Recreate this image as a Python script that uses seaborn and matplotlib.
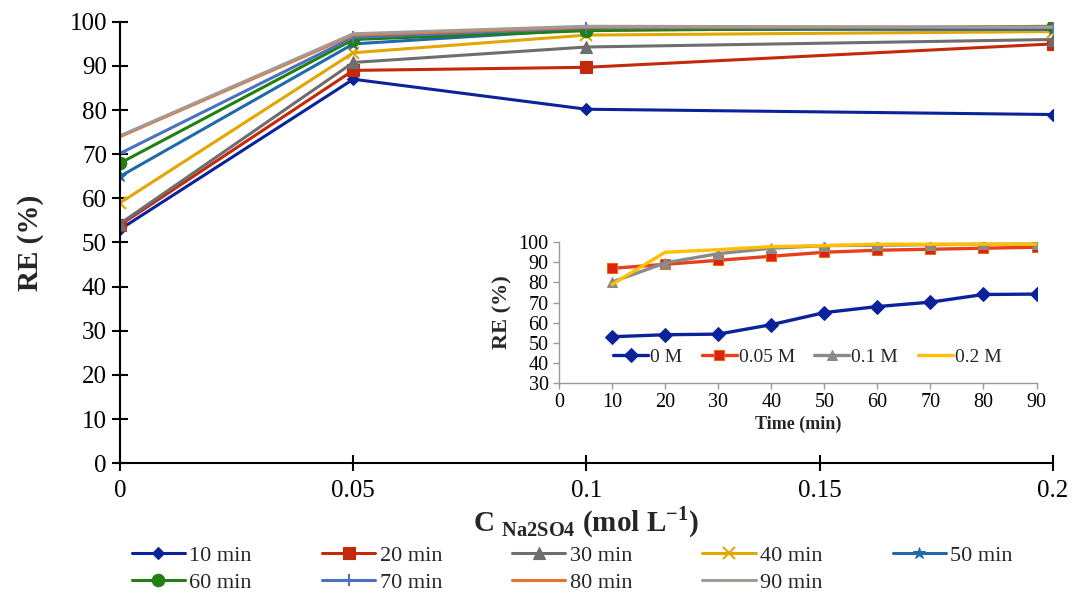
import numpy as np
import pandas as pd
import seaborn as sns
import matplotlib.pyplot as plt

# main chart: RE (%) vs Na2SO4 concentration, one series per contact time
conc = [0, 0.05, 0.1, 0.2]
time_labels = ["10 min", "20 min", "30 min", "40 min", "50 min",
               "60 min", "70 min", "80 min", "90 min"]
re_10 = [53.0, 87.0, 80.2, 79.0]
re_20 = [54.0, 89.0, 89.7, 95.0]
re_30 = [54.3, 90.8, 94.3, 96.0]
re_40 = [59.0, 93.0, 97.0, 97.8]
re_50 = [65.0, 95.0, 98.3, 98.3]
re_60 = [68.0, 96.0, 98.0, 99.0]
re_70 = [70.2, 96.5, 98.6, 98.8]
re_80 = [74.0, 97.0, 98.8, 98.8]
re_90 = [74.2, 97.3, 99.0, 98.8]
main_series = [re_10, re_20, re_30, re_40, re_50, re_60, re_70, re_80, re_90]

main_colors = ["#0b239a", "#c4290c", "#6e6e6e", "#e2a600", "#1f6aa8",
               "#21800f", "#4a72c0", "#e8702e", "#a39a94"]
main_markers = ["D", "s", "^", "x", "*", "o", "+", None, None]
main_msize = [6, 8, 8, 8, 9, 9, 9, 0, 0]

# inset: RE (%) vs time, one series per concentration
times = [10, 20, 30, 40, 50, 60, 70, 80, 90]
conc_labels = ["0 M", "0.05 M", "0.1 M", "0.2 M"]
re_0m = [53.0, 54.0, 54.3, 59.0, 65.0, 68.0, 70.2, 74.0, 74.2]
re_005m = [87.0, 89.0, 91.0, 93.0, 95.0, 96.0, 96.5, 97.0, 97.5]
re_01m = [80.2, 89.7, 94.3, 97.0, 98.3, 98.5, 98.8, 99.0, 99.0]
re_02m = [79.0, 95.0, 96.3, 97.8, 98.3, 99.0, 99.0, 99.0, 99.0]
inset_series = [re_0m, re_005m, re_01m, re_02m]
inset_colors = ["#0b239a", "#e8401c", "#8a8a8a", "#ffc000"]
inset_markers = ["D", "s", "^", None]

sns.set_theme(style="white")
plt.rcParams["font.family"] = ["Liberation Serif", "DejaVu Serif"]
plt.rcParams["mathtext.fontset"] = "custom"
plt.rcParams["mathtext.rm"] = "Liberation Serif"
plt.rcParams["mathtext.bf"] = "Liberation Serif:bold"

fig = plt.figure(figsize=(10.73, 6.07), dpi=100)
ax = fig.add_axes([0.112, 0.237, 0.869, 0.727])

for vals, lab, col, mk, ms in zip(main_series, time_labels, main_colors, main_markers, main_msize):
    df = pd.DataFrame({"conc": conc, "re": vals})
    sns.lineplot(data=df, x="conc", y="re", ax=ax, color=col, linewidth=2.2,
                 marker=mk, markersize=ms, markeredgecolor=col,
                 markeredgewidth=1.5 if mk in ("x", "+") else 0.8, label=lab, legend=False)

ax.set_xlim(0, 0.2)
ax.set_ylim(0, 100)
ax.set_xticks([0, 0.05, 0.1, 0.15, 0.2])
ax.set_xticklabels(["0", "0.05", "0.1", "0.15", "0.2"])
ax.set_yticks(np.arange(0, 101, 10))
ax.tick_params(axis="both", bottom=True, left=True, direction="inout", length=12,
               width=1.5, labelsize=18, colors="black")
ax.tick_params(axis="x", pad=6)
for s in ["top", "right"]:
    ax.spines[s].set_visible(False)
for s in ["left", "bottom"]:
    ax.spines[s].set_color("black")
    ax.spines[s].set_linewidth(1.5)
ax.set_ylabel("RE (%)", fontsize=21, fontweight="bold", labelpad=18)
ax.set_xlabel(r"C $_{\mathbf{Na2SO4}}$ (mol L$^{\mathbf{-1}}$)", fontsize=21,
              fontweight="bold", labelpad=2)

# legend filled row by row like the original
h, l = ax.get_legend_handles_labels()
order = [0, 5, 1, 6, 2, 7, 3, 8, 4]
fig.legend([h[i] for i in order], [l[i] for i in order], loc="lower left",
           bbox_to_anchor=(0.104, -0.01), ncol=5, fontsize=16, frameon=False,
           handlelength=2.4, columnspacing=3.15, handletextpad=0.2, labelspacing=0.3)

# inset
ins = fig.add_axes([0.521, 0.369, 0.445, 0.232])
for vals, lab, col, mk in zip(inset_series, conc_labels, inset_colors, inset_markers):
    df = pd.DataFrame({"time": times, "re": vals})
    sns.lineplot(data=df, x="time", y="re", ax=ins, color=col, linewidth=2.4,
                 marker=mk, markersize=7 if mk else 0,
                 markeredgecolor="#e86a00" if mk == "s" else col,
                 markerfacecolor="#e02010" if mk == "s" else col,
                 label=lab, legend=False)
ins.set_xlim(0, 90)
ins.set_ylim(30, 100)
ins.set_xticks(np.arange(0, 91, 10))
ins.set_yticks(np.arange(30, 101, 10))
ins.tick_params(axis="both", bottom=True, left=True, direction="out", length=4, width=1,
                labelsize=14.5, colors="#999999", labelcolor="black")
for s in ["top", "right"]:
    ins.spines[s].set_visible(False)
for s in ["left", "bottom"]:
    ins.spines[s].set_color("#999999")
    ins.spines[s].set_linewidth(1)
ins.set_facecolor("white")
ins.set_ylabel("RE (%)", fontsize=16, fontweight="bold", labelpad=4)
ins.set_xlabel("Time (min)", fontsize=13, fontweight="bold", labelpad=2)
ins.legend(loc="lower center", bbox_to_anchor=(0.52, 0.0), ncol=4, fontsize=14,
           frameon=False, handlelength=1.8, handletextpad=0.1, columnspacing=1.0)

fig.savefig("out.png", dpi=100)
